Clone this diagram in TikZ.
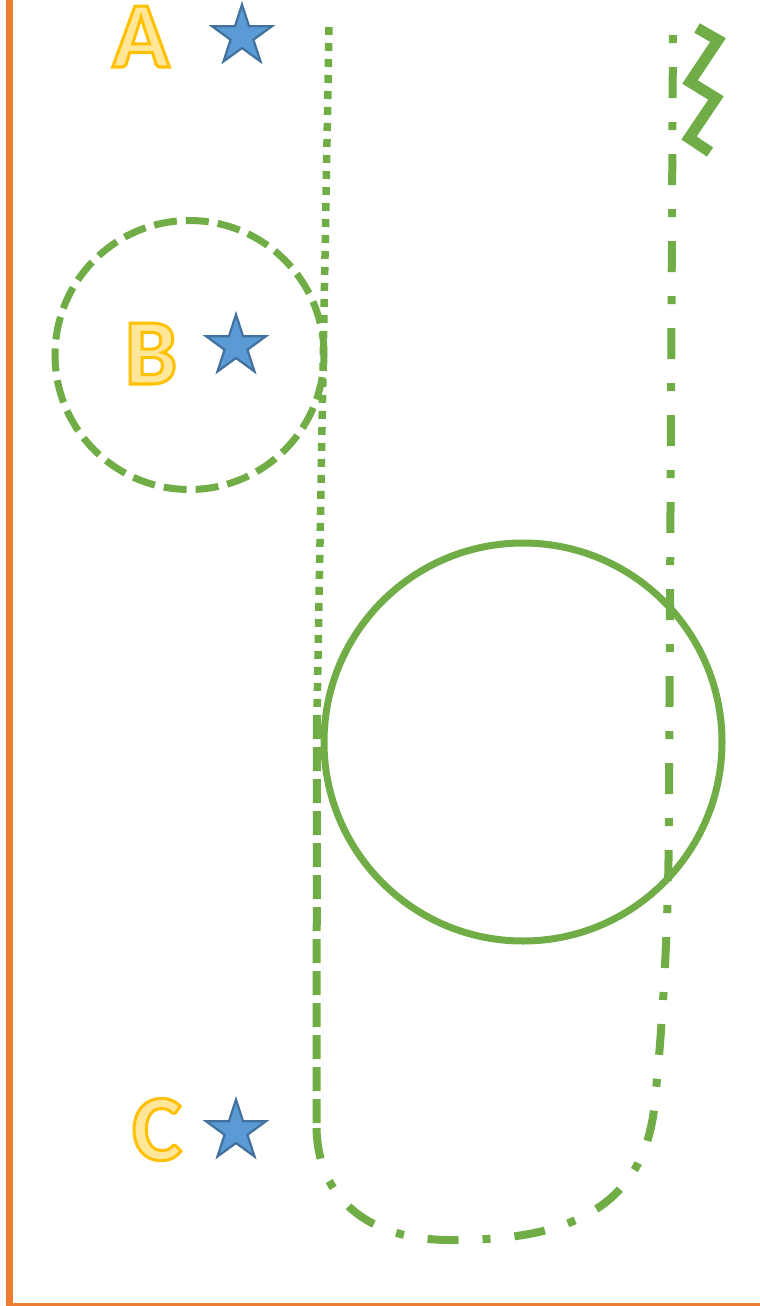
\documentclass[tikz,border=0pt]{standalone}
\usepackage{fontspec}
\newfontfamily\carl{Carlito}
\usetikzlibrary{shapes.geometric}
\definecolor{grn}{HTML}{70AD47}
\definecolor{org}{HTML}{ED7D31}
\definecolor{sfill}{HTML}{5B9BD5}
\definecolor{sline}{HTML}{41719C}
\definecolor{yfill}{HTML}{FFE699}
\newcommand{\outlinetext}[1]{\special{pdf:literal direct 1 0.753 0 RG 2 Tr 3 w}#1\special{pdf:literal direct 0 Tr}}
\tikzset{
  starshape/.style={star, star points=5, star point ratio=2.618, minimum size=63pt, inner sep=0pt, fill=sfill, draw=sline, line width=2.2pt},
  letter/.style={font=\carl\bfseries\fontsize{94}{94}\selectfont, text=yfill, inner sep=0pt, anchor=base},
  greenline/.style={draw=grn, line cap=butt},
}
\begin{document}
\begin{tikzpicture}[x=1pt, y=-1pt]
\useasboundingbox (0,0) rectangle (760,1306);
% orange frame
\draw[org, line width=7pt] (9,0) -- (9,1306) -- (760,1306);
% coordinates
\coordinate (dotTop) at (329,27);
\coordinate (dotEnd) at (317,715);
\coordinate (dashEnd) at (316.5,1128);
\coordinate (rightTop) at (673,25);
% dotted line
\draw[greenline, line width=7.5pt, dash pattern=on 8pt off 8pt] (dotTop) -- (dotEnd);
% dashed line
\draw[greenline, line width=8pt, dash pattern=on 24pt off 8pt] (dotEnd) -- (dashEnd);
% dash-dot U curve
\draw[greenline, line width=8pt, dash pattern=on 31pt off 24pt on 8pt off 24pt]
  (dashEnd) .. controls (318,1200) and (370,1240) .. (450,1240)
  .. controls (540,1240) and (645,1225) .. (655,1100)
  .. controls (665,1000) and (669,900) .. (669,800) -- (rightTop);
% dashed circle
\draw[greenline, line width=7pt, dash pattern=on 23pt off 9pt] (189.5,355) circle[radius=134.5pt];
% solid circle
\draw[grn, line width=7pt] (523,742) circle[radius=199pt];
% zigzag
\draw[grn, line width=11pt, line join=miter] (697,28) -- (718,40) -- (690,82) -- (716,98) -- (689,138) -- (710,152);
% stars
\node[starshape] (sA) at (242,36) {};
\node[starshape] (sB) at (236,346) {};
\node[starshape] (sC) at (236,1131) {};
% letters
\node[letter] (lA) at (141,67) {\outlinetext{A}};
\node[letter] (lB) at (151,384) {\outlinetext{B}};
\node[letter] (lC) at (157,1160) {\outlinetext{C}};
\end{tikzpicture}
\end{document}
